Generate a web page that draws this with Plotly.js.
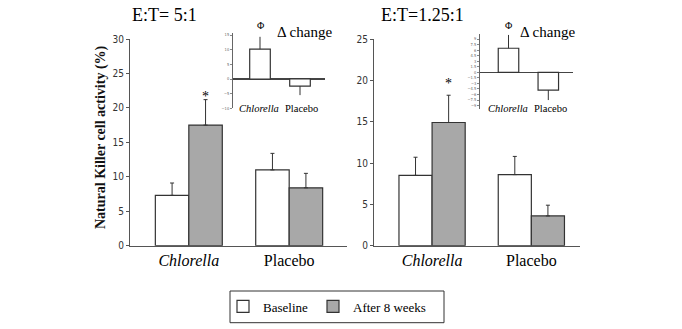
<!DOCTYPE html>
<html>
<head>
<meta charset="utf-8">
<script src="https://cdn.plot.ly/plotly-3.0.1.min.js"></script>
<style>html,body{margin:0;padding:0;background:#fff}#chart{width:682px;height:329px}</style>
</head>
<body>
<div id="chart"></div>
<script>
// ---- data ----
const categories = ["Chlorella", "Placebo"];
const categoryLabels = ["<i>Chlorella</i>", "Placebo"];
const seriesNames = ["Baseline", "After 8 weeks"];

// E:T = 5:1
const et5Baseline = [7.3, 11.0];
const et5BaselineErr = [1.8, 2.4];
const et5After = [17.5, 8.4];
const et5AfterErr = [3.7, 2.1];
const et5Change = [10.2, -2.4];
const et5ChangeErrUp = [4.2, 0];
const et5ChangeErrDown = [0, 3.1];

// E:T = 1.25:1
const et125Baseline = [8.5, 8.6];
const et125BaselineErr = [2.2, 2.2];
const et125After = [14.9, 3.6];
const et125AfterErr = [3.3, 1.3];
const et125Change = [6.5, -4.8];
const et125ChangeErrUp = [3.6, 0];
const et125ChangeErrDown = [0, 2.7];

const panelTitles = ["E:T= 5:1", "E:T=1.25:1"];
const yTitle = "Natural Killer cell activity (%)";
const insetTitle = "\u0394 change";
const insetMark = "\u03a6";

// ---- style ----
const W = 682, H = 329;
const px = v => v / W, py = v => 1 - v / H;
const serif = '"Liberation Serif", "Times New Roman", serif';
const narrow = '"Liberation Sans Narrow", "Arial Narrow", "DejaVu Sans Condensed", "Liberation Sans", sans-serif';
const edge = "#333333";
const grayFill = "#a8a8a8";

function mainBar(y, err, name, fill, xa, ya, show) {
  return {
    type: "bar", x: categories, y: y, name: name, xaxis: xa, yaxis: ya,
    showlegend: show, legendgroup: name,
    marker: {color: fill, line: {color: edge, width: 1.2}},
    error_y: {type: "data", symmetric: false, array: err, arrayminus: err.map(() => 0),
              color: edge, thickness: 1, width: 2}
  };
}
function insetBar(y, up, down, xa, ya) {
  return {
    type: "bar", x: categories, y: y, xaxis: xa, yaxis: ya, showlegend: false, width: 0.515,
    marker: {color: "#ffffff", line: {color: edge, width: 1.2}},
    error_y: {type: "data", symmetric: false, array: up, arrayminus: down,
              color: edge, thickness: 1, width: 0}
  };
}

const traces = [
  mainBar(et5Baseline, et5BaselineErr, seriesNames[0], "#ffffff", "x", "y", true),
  mainBar(et5After, et5AfterErr, seriesNames[1], grayFill, "x", "y", true),
  mainBar(et125Baseline, et125BaselineErr, seriesNames[0], "#ffffff", "x2", "y2", false),
  mainBar(et125After, et125AfterErr, seriesNames[1], grayFill, "x2", "y2", false),
  insetBar(et5Change, et5ChangeErrUp, et5ChangeErrDown, "x3", "y3"),
  insetBar(et125Change, et125ChangeErrUp, et125ChangeErrDown, "x4", "y4")
];

const mainY = {
  showline: true, linecolor: "#555", linewidth: 1, showgrid: false, zeroline: false,
  ticks: "outside", ticklen: 3, tickcolor: "#555",
  tickfont: {family: narrow, size: 10, color: "#333"}
};
const mainX = {
  type: "category", showline: true, linecolor: "#555", linewidth: 1, showgrid: false,
  ticks: "", tickvals: categories, ticktext: categoryLabels,
  tickfont: {family: serif, size: 16, color: "#000"}
};
const insetY = {
  showline: true, linecolor: "#666", linewidth: 1, showgrid: false,
  zeroline: true, zerolinecolor: "#444", zerolinewidth: 1.5,
  ticks: "outside", ticklen: 2, tickcolor: "#888",
  tickfont: {family: narrow, size: 4, color: "#666"}
};
const insetX = {type: "category", showline: false, showgrid: false, ticks: "", showticklabels: false, zeroline: false};

const yDom = [py(245.7), py(39)];
const insetLabelFont = {family: serif, size: 10.5, color: "#000"};

const layout = {
  width: W, height: H, margin: {l: 0, r: 0, t: 0, b: 0},
  font: {family: serif},
  paper_bgcolor: "#fff", plot_bgcolor: "rgba(0,0,0,0)",
  barmode: "group", bargap: 0.333, bargroupgap: 0,
  showlegend: true,
  legend: {orientation: "h", x: px(223), y: py(306.5), xanchor: "left", yanchor: "middle",
           font: {family: serif, size: 13, color: "#000"}, bgcolor: "rgba(0,0,0,0)"},
  xaxis: Object.assign({}, mainX, {domain: [px(130), px(347)], range: [-0.586, 1.576], anchor: "y"}),
  yaxis: Object.assign({}, mainY, {domain: yDom, range: [0, 30], dtick: 5, anchor: "x"}),
  xaxis2: Object.assign({}, mainX, {domain: [px(374), px(580)], range: [-0.585, 1.49], anchor: "y2"}),
  yaxis2: Object.assign({}, mainY, {domain: yDom, range: [0, 25], dtick: 5, anchor: "x2"}),
  xaxis3: Object.assign({}, insetX, {domain: [px(233), px(325)], range: [-0.675, 1.625], anchor: "y3"}),
  yaxis3: Object.assign({}, insetY, {domain: [py(108.3), py(33.3)], range: [-10, 15.6], dtick: 5, anchor: "x3"}),
  xaxis4: Object.assign({}, insetX, {domain: [px(480), px(573.3)], range: [-0.716, 1.628], anchor: "y4"}),
  yaxis4: Object.assign({}, insetY, {domain: [py(109.3), py(34.3)], range: [-10, 10.27], dtick: 1.5, anchor: "x4"}),
  shapes: [
    {type: "rect", xref: "paper", yref: "paper", x0: px(230), x1: px(444), y0: py(322.7), y1: py(291),
     line: {color: "#333", width: 1}, fillcolor: "rgba(0,0,0,0)"}
  ],
  annotations: [
    {xref: "paper", yref: "paper", x: px(164), y: py(15), text: panelTitles[0], showarrow: false,
     font: {family: serif, size: 18, color: "#000"}, xanchor: "center", yanchor: "middle"},
    {xref: "paper", yref: "paper", x: px(422), y: py(15), text: panelTitles[1], showarrow: false,
     font: {family: serif, size: 18, color: "#000"}, xanchor: "center", yanchor: "middle"},
    {xref: "paper", yref: "paper", x: px(101), y: py(137), text: "<b>" + yTitle + "</b>", showarrow: false, textangle: -90,
     font: {family: serif, size: 14, color: "#111"}, xanchor: "center", yanchor: "middle"},
    // significance stars
    {xref: "x", yref: "y", x: 0.1667, y: et5After[0] + et5AfterErr[0], text: "*", showarrow: false,
     xanchor: "center", yanchor: "bottom", yshift: -6, font: {family: serif, size: 14, color: "#000"}},
    {xref: "x2", yref: "y2", x: 0.1667, y: et125After[0] + et125AfterErr[0], text: "*", showarrow: false,
     xanchor: "center", yanchor: "bottom", yshift: 2, font: {family: serif, size: 14, color: "#000"}},
    // inset titles & phi marks
    {xref: "paper", yref: "paper", x: px(304), y: py(31.7), text: insetTitle, showarrow: false,
     font: {family: serif, size: 15, color: "#000"}, xanchor: "center", yanchor: "middle"},
    {xref: "paper", yref: "paper", x: px(547), y: py(31.7), text: insetTitle, showarrow: false,
     font: {family: serif, size: 15, color: "#000"}, xanchor: "center", yanchor: "middle"},
    {xref: "x3", yref: "paper", x: categories[0], y: py(26), text: insetMark, showarrow: false,
     font: {family: serif, size: 10, color: "#000"}, xanchor: "center", yanchor: "middle"},
    {xref: "x4", yref: "paper", x: categories[0], y: py(26), text: insetMark, showarrow: false,
     font: {family: serif, size: 10, color: "#000"}, xanchor: "center", yanchor: "middle"},
    // inset category labels
    {xref: "x3", yref: "paper", x: categories[0], y: py(108.5), text: categoryLabels[0], showarrow: false,
     font: insetLabelFont, xanchor: "center", yanchor: "middle", xshift: -1},
    {xref: "x3", yref: "paper", x: categories[1], y: py(108.5), text: categoryLabels[1], showarrow: false,
     font: insetLabelFont, xanchor: "center", yanchor: "middle", xshift: 1},
    {xref: "x4", yref: "paper", x: categories[0], y: py(108.5), text: categoryLabels[0], showarrow: false,
     font: insetLabelFont, xanchor: "center", yanchor: "middle", xshift: -1},
    {xref: "x4", yref: "paper", x: categories[1], y: py(108.5), text: categoryLabels[1], showarrow: false,
     font: insetLabelFont, xanchor: "center", yanchor: "middle", xshift: 2}
  ]
};

Plotly.newPlot("chart", traces, layout, {displayModeBar: false, staticPlot: true});
</script>
</body>
</html>
